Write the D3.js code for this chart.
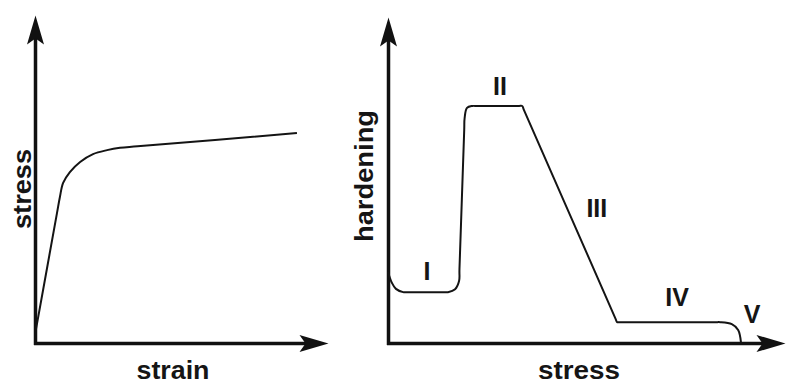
<!DOCTYPE html>
<html lang="en">
<head>
<meta charset="utf-8">
<title>Stress-strain and hardening stages</title>
<script src="https://cdn.jsdelivr.net/npm/d3@7"></script>
<style>
  body { margin: 0; background: #fff; }
  text { font-family: "Liberation Sans", Arial, sans-serif; font-weight: bold; fill: #151515; }
</style>
</head>
<body>
<div id="chart"></div>
<script>
// left panel: stress-strain curve, arbitrary units (0-100)
var strain = [0.3, 7.5, 8.5, 9.6, 11.9, 15.4, 19.8, 24.6, 29.0, 35.0, 89.4];
var stress = [4.0, 39.6, 44.5, 48.8, 52.1, 55.2, 57.6, 58.8, 59.5, 59.95, 64.0];

// right panel: hardening rate vs stress, arbitrary units (0-100)
var stressR   = [0, 1.0, 2.0, 3.8, 5.0, 14.0, 15.1, 16.9, 17.9, 18.0, 19.2, 19.3, 19.9, 21.2, 22.5, 33.0, 33.8, 34.2, 57.3, 57.7, 58.5, 83.0, 83.6, 86.6, 88.2, 88.9];
var hardening = [21.8, 18.4, 16.6, 15.6, 15.6, 15.6, 15.6, 16.5, 19.0, 22.6, 65.4, 69.0, 72.1, 72.7, 72.7, 72.7, 72.7, 71.6, 7.5, 6.4, 6.4, 6.4, 6.4, 5.8, 4.0, 0.3];

// stage labels (placed in data units of the right panel)
var stages = ["I", "II", "III", "IV", "V"];
var stageX = [9.8, 28.2, 52.6, 72.8, 91.7];
var stageY = [19.3, 76.1, 38.7, 11.3, 6.1];

var width = 787, height = 383;

var svg = d3.select("#chart")
    .append("svg")
    .attr("width", width)
    .attr("height", height);

// notched arrowheads; tip sits 10px past the end of the axis line
var defs = svg.append("defs");
[["arrowUp", -90], ["arrowRight", 0]].forEach(function(m) {
    defs.append("marker")
        .attr("id", m[0])
        .attr("viewBox", "-21 -9 33 18")
        .attr("refX", 0)
        .attr("refY", 0)
        .attr("markerUnits", "userSpaceOnUse")
        .attr("markerWidth", 33)
        .attr("markerHeight", 18)
        .attr("orient", m[1]) // fixed, the domain path ends in a tiny step
        .append("path")
        .attr("d", "M10,0 L-19,-8.5 L-13,0 L-19,8.5 Z")
        .attr("fill", "#111");
});

function panel(opts) {
    var x = d3.scaleLinear().domain([0, 100]).range(opts.xr);
    var y = d3.scaleLinear().domain([0, 100]).range(opts.yr);

    // axes: bare domain lines, stopped short so the arrow tip lands on the range end
    svg.append("g")
        .attr("transform", "translate(0," + opts.yr[0] + ")")
        .call(d3.axisBottom(x.copy().range([opts.xr[0] - 1.5, opts.xr[1] - 10]))
            .tickValues([]).tickSizeOuter(0))
        .select(".domain")
        .attr("stroke", "#111").attr("stroke-width", 3.5)
        .attr("marker-end", "url(#arrowRight)");

    svg.append("g")
        .attr("transform", "translate(" + opts.xr[0] + ",0)")
        .call(d3.axisLeft(y.copy().range([opts.yr[0] + 1.5, opts.yr[1] + 10]))
            .tickValues([]).tickSizeOuter(0))
        .select(".domain")
        .attr("stroke", "#111").attr("stroke-width", 3.5)
        .attr("marker-end", "url(#arrowUp)");

    var pts = d3.zip(opts.xs, opts.ys);
    svg.append("path")
        .datum(pts)
        .attr("fill", "none")
        .attr("stroke", "#141414")
        .attr("stroke-width", 2)
        .attr("stroke-linejoin", "round")
        .attr("d", d3.line()
            .x(function(d) { return x(d[0]); })
            .y(function(d) { return y(d[1]); })
            .curve(d3.curveCatmullRom.alpha(0.5)));

    // axis titles
    svg.append("text")
        .attr("x", opts.xLabelX)
        .attr("y", 379)
        .attr("text-anchor", "middle")
        .attr("font-size", 25)
        .attr("textLength", opts.xLabelLen)
        .attr("lengthAdjust", "spacingAndGlyphs")
        .text(opts.xLabel);

    svg.append("text")
        .attr("transform", "translate(" + opts.yLabelX + "," + opts.yLabelY + ") rotate(-90)")
        .attr("text-anchor", "middle")
        .attr("font-size", 25)
        .attr("textLength", opts.yLabelLen)
        .attr("lengthAdjust", "spacingAndGlyphs")
        .text(opts.yLabel);

    return { x: x, y: y };
}

var left = panel({
    xr: [35, 328], yr: [343, 15],
    xs: strain, ys: stress,
    xLabel: "strain", xLabelX: 173, xLabelLen: 73,
    yLabel: "stress", yLabelX: 31, yLabelY: 189, yLabelLen: 80
});

var right = panel({
    xr: [388, 785], yr: [343, 17],
    xs: stressR, ys: hardening,
    xLabel: "stress", xLabelX: 579, xLabelLen: 82,
    yLabel: "hardening", yLabelX: 373, yLabelY: 176, yLabelLen: 132
});

svg.selectAll(".stage")
    .data(stages)
    .enter()
    .append("text")
    .attr("class", "stage")
    .attr("x", function(d, i) { return right.x(stageX[i]); })
    .attr("y", function(d, i) { return right.y(stageY[i]); })
    .attr("text-anchor", "middle")
    .attr("font-size", 25)
    .text(function(d) { return d; });
</script>
</body>
</html>
